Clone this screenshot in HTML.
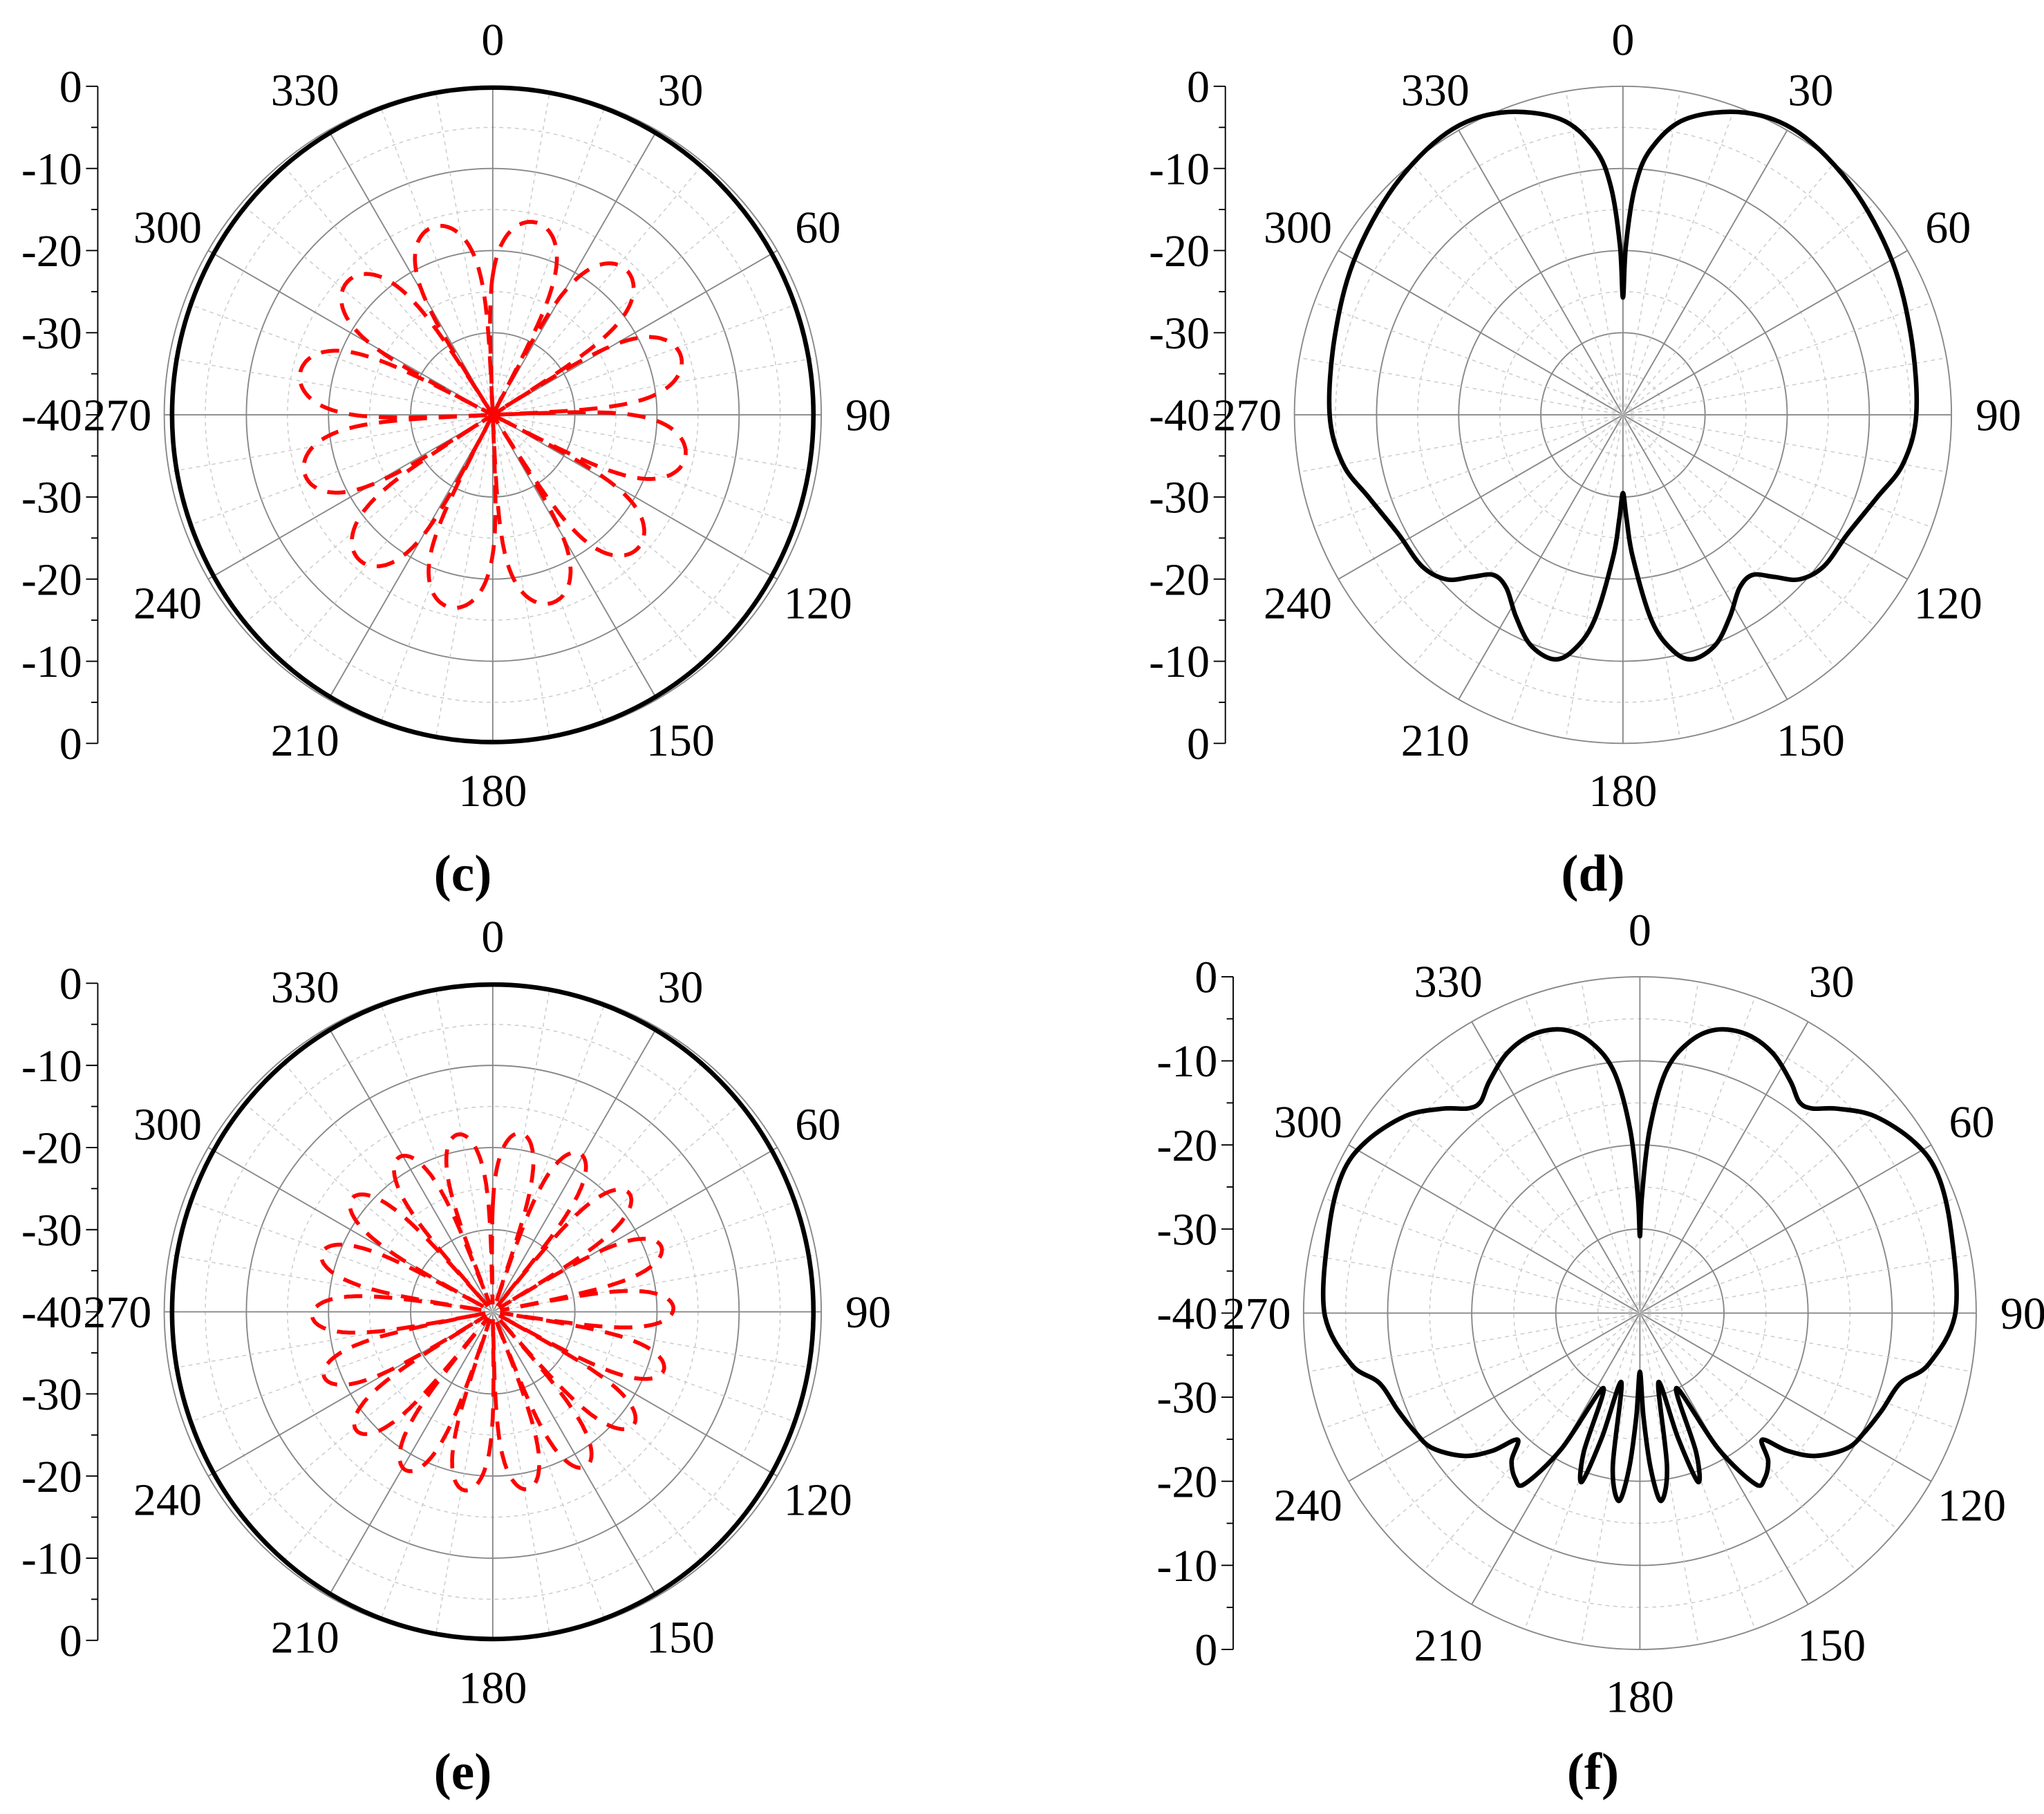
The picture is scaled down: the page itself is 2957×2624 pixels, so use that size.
<!DOCTYPE html>
<html><head><meta charset="utf-8">
<style>html,body{margin:0;padding:0;background:#fff}svg{display:block}</style>
</head><body>
<svg id="s" xmlns="http://www.w3.org/2000/svg" width="2957" height="2624" viewBox="0 0 1568 1391" font-family="Liberation Serif, serif">
<rect width="1568" height="1391" fill="#fff"/>
</svg>
<script>
const S=document.getElementById('s');const NS='http://www.w3.org/2000/svg';
function el(t,a,txt){const e=document.createElementNS(NS,t);for(const k in a)e.setAttribute(k,a[k]);if(txt!==undefined)e.textContent=txt;S.appendChild(e);return e;}
function pt(cx,cy,a,r){const t=a*Math.PI/180;return [cx+r*Math.sin(t),cy-r*Math.cos(t)];}
function panel(cx,cy,R,ax,cap,capx,capy){
  for(let i=1;i<=8;i++){const r=R*i/8;
    el('circle',{cx,cy,r,fill:'none',stroke:i%2?'#ccc':'#888','stroke-width':i%2?0.8:1,'stroke-dasharray':i%2?'3 3':'none'});}
  for(let a=0;a<360;a+=10){const p=pt(cx,cy,a,R);
    el('line',{x1:cx,y1:cy,x2:p[0],y2:p[1],stroke:a%30?'#ccc':'#888','stroke-width':a%30?0.8:1,'stroke-dasharray':a%30?'3 3':'none'});}
  for(let a=0;a<360;a+=30){const p=pt(cx,cy,a,R+36);
    el('text',{x:p[0],y:p[1]+12,'font-size':35,'text-anchor':'middle'},String(a));}
  const top=cy-R,bot=cy+R;
  el('line',{x1:ax,y1:top,x2:ax,y2:bot,stroke:'#000','stroke-width':1});
  const labs=['0','-10','-20','-30','-40','-30','-20','-10','0'];
  for(let i=0;i<=16;i++){const y=top+(bot-top)*i/16;
    el('line',{x1:ax-(i%2?5:9),y1:y,x2:ax,y2:y,stroke:'#000','stroke-width':1});
    if(i%2==0)el('text',{x:ax-12,y:y+12,'font-size':35,'text-anchor':'end'},labs[i/2]);}
  el('text',{x:capx,y:capy,'font-size':40,'font-weight':'bold','text-anchor':'middle'},cap);
}
function crPath(pts){ // closed catmull-rom
  const n=pts.length;let d='M'+pts[0][0].toFixed(1)+','+pts[0][1].toFixed(1);
  for(let i=0;i<n;i++){const p0=pts[(i-1+n)%n],p1=pts[i],p2=pts[(i+1)%n],p3=pts[(i+2)%n];
    const c1=[p1[0]+(p2[0]-p0[0])/6,p1[1]+(p2[1]-p0[1])/6],c2=[p2[0]-(p3[0]-p1[0])/6,p2[1]-(p3[1]-p1[1])/6];
    d+='C'+c1[0].toFixed(1)+','+c1[1].toFixed(1)+' '+c2[0].toFixed(1)+','+c2[1].toFixed(1)+' '+p2[0].toFixed(1)+','+p2[1].toFixed(1);}
  return d+'Z';}
function tablePath(cx,cy,tab){
  const pts=[];tab.forEach(([a,r])=>pts.push(pt(cx,cy,a,r)));
  for(let i=tab.length-2;i>=1;i--){const [a,r]=tab[i];pts.push(pt(cx,cy,360-a,r));}
  return crPath(pts);}
function redPath(cx,cy,R,n,mx,ph){
  let d='';for(let i=0;i<=1440;i++){const a=i/4;const v=Math.abs(Math.sin((a*n+ph)*Math.PI/180));
    let db=mx+12*Math.log10(Math.max(v,1e-4));db=Math.max(db,-40);const r=(db+40)/40*R;
    const p=pt(cx,cy,a,r);d+=(i?'L':'M')+p[0].toFixed(1)+','+p[1].toFixed(1);}
  return d;}
// (c)
panel(378,318,252,75,'(c)',355,683);
el('ellipse',{cx:378,cy:318,rx:246,ry:251,fill:'none',stroke:'#000','stroke-width':3.5});
el('path',{d:redPath(378,318,252,6,-16,15),fill:'none',stroke:'#f00','stroke-width':3,'stroke-dasharray':'14 9'});
// (d)
panel(1245,318,252,940,'(d)',1222,683);
const dt=[[0,90],[1,130],[3,175],[6,205],[12,232],[22,250],[32,255],[45,248],[60,238],[75,229],[90,225],[100,218],[108,205],[118,195],[127,193],[133,185],[137,170],[141,158],[146,160],[152,175],[158,190],[164,195],[168,185],[172,160],[176,110],[178,80],[180,60]];
el('path',{d:tablePath(1245,318,dt),fill:'none',stroke:'#000','stroke-width':3.5,'stroke-linejoin':'round'});
// (e)
panel(378,1006,252,75,'(e)',355,1372);
el('ellipse',{cx:378,cy:1006,rx:246,ry:251,fill:'none',stroke:'#000','stroke-width':3.5});
el('path',{d:redPath(378,1006,252,9,-18,10),fill:'none',stroke:'#f00','stroke-width':3,'stroke-dasharray':'14 9'});
// (f)
panel(1258,1007,258,946,'(f)',1222,1372);
const ft=[[0,59],[1,90],[3,140],[6,185],[10,210],[15,225],[21,229],[27,224],[33,212],[37,203],[40,205],[44,218],[50,235],[58,248],[65,252],[75,247],[90,242],[100,225],[105,207],[112,200],[118,195],[123,190],[129,174],[133,155],[136,135],[139,150],[143,159],[146,158],[150,120],[154,64],[158,115],[161,137],[163,100],[165,55],[170,120],[173.6,145],[176,120],[178,80],[180,45]];
el('path',{d:tablePath(1258,1007,ft),fill:'none',stroke:'#000','stroke-width':3.5,'stroke-linejoin':'round'});
</script>
</body></html>
